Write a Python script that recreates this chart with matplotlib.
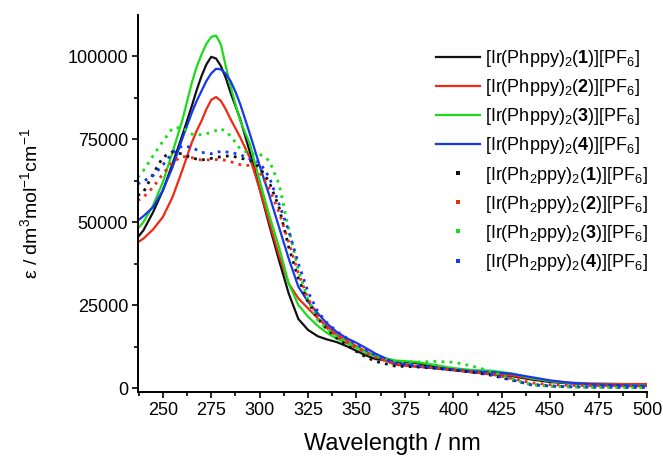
import matplotlib
matplotlib.use("Agg")
import matplotlib.pyplot as plt
from matplotlib.lines import Line2D
from matplotlib.ticker import MultipleLocator

plt.rcParams['font.family'] = ['Liberation Sans', 'DejaVu Sans']
plt.rcParams['mathtext.fontset'] = 'custom'
plt.rcParams['mathtext.rm'] = 'Liberation Sans'
plt.rcParams['mathtext.it'] = 'Liberation Sans:italic'
plt.rcParams['mathtext.bf'] = 'Liberation Sans:bold'

# wavelengths (nm) for the solid Phppy curves
wl_solid = [237, 240, 245, 250, 255, 260, 265, 267.5, 270, 272.5, 275, 277.5, 280, 282.5,
            285, 287.5, 290, 295, 300, 305, 310, 315, 320, 325, 330, 335, 340, 345, 350,
            355, 360, 370, 380, 390, 400, 410, 420, 430, 440, 450, 460, 470, 480, 490, 500]
# epsilon values in units of 1000 dm3 mol-1 cm-1
phppy_1 = [45.4, 47.5, 53.0, 59.5, 67.5, 76.0, 85.0, 89.8, 94.0, 97.5, 99.8, 99.3, 97.0, 93.5,
           89.0, 85.0, 81.0, 71.0, 60.0, 49.0, 38.5, 28.5, 20.8, 17.5, 15.6, 14.6, 13.8, 12.6, 11.2,
           9.8, 8.7, 8.0, 7.6, 6.4, 5.4, 4.7, 4.2, 3.6, 2.6, 1.8, 1.4, 1.1, 0.9, 0.8, 0.7]
phppy_2 = [43.9, 45.0, 47.8, 51.5, 57.5, 65.5, 74.0, 77.5, 80.5, 84.0, 86.8, 87.7, 86.5, 84.0,
           81.0, 78.3, 75.5, 69.3, 60.0, 50.0, 40.0, 31.5, 27.0, 24.0, 21.0, 18.5, 16.0, 14.3, 12.6,
           11.0, 9.6, 7.0, 6.5, 6.0, 5.4, 4.8, 4.3, 3.8, 2.9, 2.1, 1.6, 1.4, 1.3, 1.2, 1.2]
phppy_3 = [48.0, 50.0, 55.0, 62.0, 71.0, 80.5, 92.0, 96.8, 100.5, 103.7, 105.8, 106.2, 103.5, 97.0,
           91.0, 85.5, 80.5, 73.5, 62.5, 52.0, 42.5, 31.5, 25.0, 21.5, 18.7, 16.5, 14.8, 13.5, 12.2,
           10.6, 9.6, 8.3, 7.9, 7.0, 6.0, 5.4, 5.2, 4.4, 3.0, 2.1, 1.5, 1.2, 1.0, 0.9, 0.8]
phppy_4 = [50.4, 51.8, 54.5, 59.5, 66.5, 75.0, 83.0, 86.5, 89.5, 92.5, 94.8, 96.2, 96.0, 94.7,
           92.5, 89.3, 85.5, 76.5, 67.0, 58.0, 48.5, 39.0, 30.5, 26.0, 22.5, 19.3, 16.8, 15.0, 13.6,
           12.0, 10.3, 7.6, 6.6, 6.0, 5.5, 5.0, 4.8, 4.3, 3.3, 2.3, 1.6, 1.2, 1.0, 0.8, 0.7]

# wavelengths (nm) for the dotted Ph2ppy curves
wl_dot = [237, 240, 245, 250, 255, 260, 265, 270, 275, 280, 285, 290, 295, 300,
          305, 310, 315, 320, 325, 330, 335, 340, 345, 350, 355, 360, 370, 380,
          390, 400, 410, 420, 430, 440, 450, 460, 470, 480, 490, 500]
ph2ppy_1 = [58.0, 59.0, 64.5, 69.5, 71.2, 70.5, 69.3, 68.7, 69.2, 69.7, 70.0, 69.3, 68.6, 66.5,
            62.0, 54.5, 42.5, 33.0, 26.0, 21.0, 17.5, 15.0, 13.0, 11.0, 9.3, 8.0, 6.6, 6.4,
            6.0, 5.4, 4.8, 3.8, 2.4, 1.1, 0.6, 0.4, 0.3, 0.3, 0.2, 0.2]
ph2ppy_2 = [56.5, 57.5, 60.5, 64.5, 68.0, 69.8, 69.4, 68.7, 68.8, 68.9, 68.2, 67.3, 67.0, 65.0,
            60.0, 53.0, 44.0, 34.5, 27.0, 21.5, 18.0, 15.5, 13.7, 12.0, 10.5, 9.2, 7.2, 6.6,
            6.1, 5.5, 4.9, 4.1, 2.9, 1.6, 1.0, 0.8, 0.7, 0.7, 0.6, 0.6]
ph2ppy_3 = [63.5, 65.5, 70.0, 74.3, 78.3, 78.5, 76.5, 76.3, 77.0, 78.2, 76.0, 72.0, 70.6, 70.5,
            68.5, 61.5, 47.9, 35.5, 26.5, 20.5, 17.6, 15.6, 14.0, 12.2, 10.7, 9.5, 8.0, 7.8,
            8.0, 7.8, 6.6, 4.9, 2.8, 1.0, 0.5, 0.3, 0.2, 0.2, 0.1, 0.1]
ph2ppy_4 = [61.5, 62.3, 64.0, 67.2, 70.8, 73.0, 72.5, 71.0, 70.6, 71.3, 71.0, 70.3, 69.0, 68.0,
            63.5, 55.5, 47.4, 37.5, 29.0, 23.0, 19.5, 17.0, 15.0, 13.3, 11.5, 9.8, 7.5, 6.8,
            6.3, 5.6, 5.0, 4.0, 2.5, 1.0, 0.6, 0.4, 0.3, 0.3, 0.2, 0.2]

colors = ['#111111', '#ee2a14', '#18dd18', '#1438ee']
labels_solid = [r'[Ir(Phppy)$_2$($\mathbf{%d}$)][PF$_6$]' % i for i in range(1, 5)]
labels_dot = [r'[Ir(Ph$_2$ppy)$_2$($\mathbf{%d}$)][PF$_6$]' % i for i in range(1, 5)]

fig = plt.figure(figsize=(6.63, 4.57), dpi=100)
ax = fig.add_axes([138/663, 1-392/457, (647-138)/663, (392-15)/457])

solid_series = [phppy_1, phppy_2, phppy_3, phppy_4]
dot_series = [ph2ppy_1, ph2ppy_2, ph2ppy_3, ph2ppy_4]
handles = []
for s, c, lab in zip(solid_series, colors, labels_solid):
    ax.plot(wl_solid, [v*1000 for v in s], color=c, lw=1.6, solid_joinstyle='round')
    handles.append(Line2D([], [], color=c, lw=1.6, label=lab))
for s, c, lab in zip(dot_series, colors, labels_dot):
    ax.plot(wl_dot, [v*1000 for v in s], color=c, lw=2.0, linestyle=(0, (1, 1.9)),
            dash_capstyle='butt')
    handles.append(Line2D([], [], color=c, lw=0, marker='s', markersize=2.4,
                          markeredgewidth=0, label=lab))

ax.set_xlim(237.2, 500)
ax.set_ylim(-1200, 112400)
ax.xaxis.set_major_locator(MultipleLocator(25))
ax.xaxis.set_minor_locator(MultipleLocator(12.5))
ax.yaxis.set_major_locator(MultipleLocator(25000))
ax.yaxis.set_minor_locator(MultipleLocator(12500))
for sp in ['top', 'right']:
    ax.spines[sp].set_visible(False)
for sp in ['left', 'bottom']:
    ax.spines[sp].set_linewidth(1.4)
ax.tick_params(which='major', direction='out', length=4.5, width=1.2, labelsize=13, pad=2.5)
ax.tick_params(which='minor', direction='out', length=3, width=1.2)

ax.set_xlabel('Wavelength / nm', fontsize=17, labelpad=10)
ax.set_ylabel(r'ε / dm$^3$mol$^{-1}$cm$^{-1}$', fontsize=14, labelpad=19)

leg = fig.legend(handles=handles, loc='upper left', bbox_to_anchor=(436/663, 1-48/457),
                 frameon=False, fontsize=13, handlelength=2.45, handletextpad=0.25,
                 labelspacing=0.45, borderpad=0, borderaxespad=0)

fig.savefig('out.png', dpi=100)
